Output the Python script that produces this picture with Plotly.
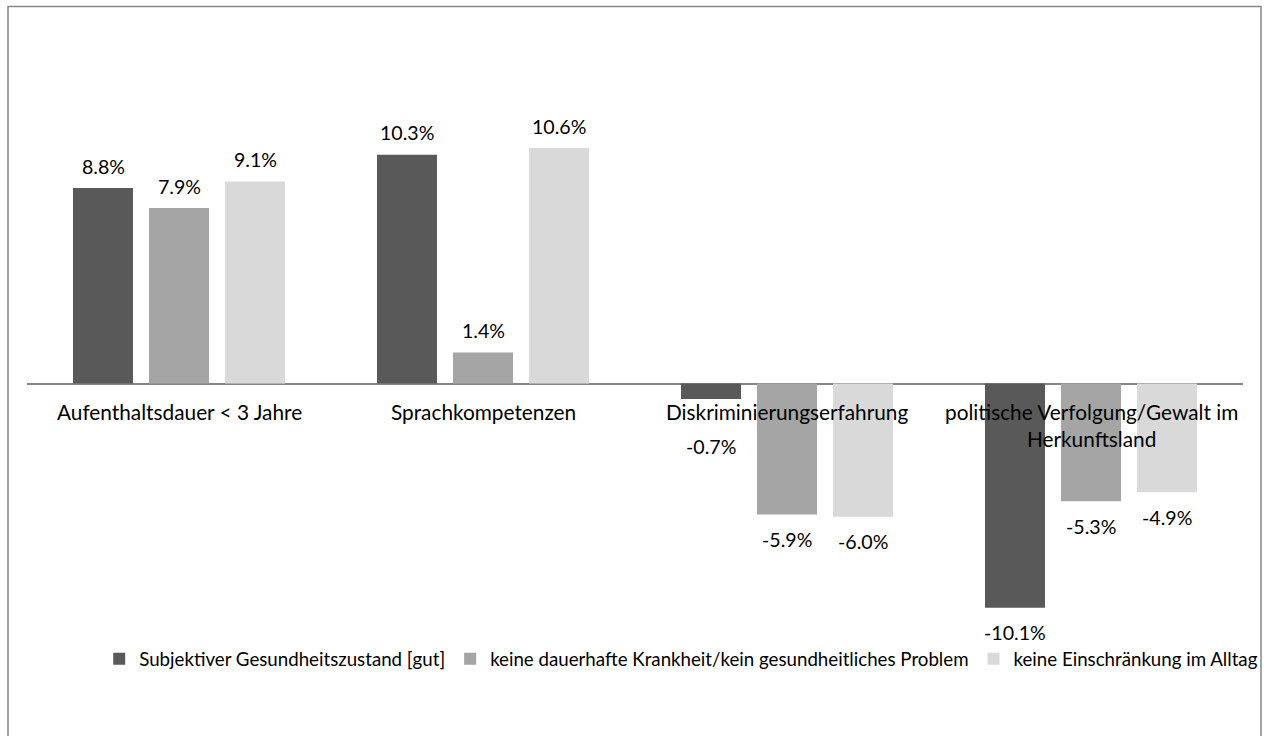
import plotly.graph_objects as go

categories = ["Aufenthaltsdauer < 3 Jahre", "Sprachkompetenzen",
              "Diskriminierungserfahrung", "politische Verfolgung/Gewalt im<br>Herkunftsland"]
series_names = ["Subjektiver Gesundheitszustand [gut]",
                "keine dauerhafte Krankheit/kein gesundheitliches Problem",
                "keine Einschränkung im Alltag"]
gesundheitszustand = [8.8, 10.3, -0.7, -10.1]
keine_krankheit = [7.9, 1.4, -5.9, -5.3]
keine_einschraenkung = [9.1, 10.6, -6.0, -4.9]
series_values = [gesundheitszustand, keine_krankheit, keine_einschraenkung]
colors = ["#595959", "#a5a5a5", "#d9d9d9"]

FONT = "Lato"
fig = go.Figure()
for name, vals, col in zip(series_names, series_values, colors):
    fig.add_trace(go.Bar(x=categories, y=vals, name=name,
                         marker=dict(color=col, line=dict(width=0)),
                         hoverinfo="skip"))

annotations = []
slot = 76  # px distance between bar centers within a group
for si, vals in enumerate(series_values):
    for ci, v in enumerate(vals):
        if v >= 0:
            ys = 22
        else:
            ys = -25
            if abs(v) < 1:
                ys = -47
        annotations.append(dict(x=categories[ci], y=v, xref="x", yref="y",
                                text=f"{v:.1f}%", showarrow=False,
                                xshift=(si - 1) * slot, yshift=ys,
                                yanchor="middle", xanchor="center",
                                font=dict(family=FONT, size=19.6, color="#000000")))
for c in categories:
    annotations.append(dict(x=c, y=0, xref="x", yref="y", text=c, showarrow=False,
                            yanchor="top", xanchor="center", yshift=-13,
                            align="center",
                            font=dict(family=FONT, size=20.8, color="#000000")))

fig.update_layout(
    width=1272, height=736,
    margin=dict(l=27, r=29, t=117, b=86, autoexpand=False),
    paper_bgcolor="white", plot_bgcolor="white",
    barmode="group", bargap=0.25, bargroupgap=0.21,
    xaxis=dict(showticklabels=False, showgrid=False, zeroline=False,
               showline=False, ticks="", fixedrange=True),
    yaxis=dict(range=[-12, 12], showticklabels=False, showgrid=False,
               zeroline=True, zerolinecolor="#868686", zerolinewidth=2,
               showline=False, ticks="", fixedrange=True),
    showlegend=True,
    legend=dict(orientation="h", x=0.538, xanchor="center", y=-0.017,
                yanchor="middle", font=dict(family=FONT, size=18.7, color="#000000"),
                itemwidth=30, tracegroupgap=0, bgcolor="rgba(0,0,0,0)"),
    annotations=annotations,
    shapes=[dict(type="rect", xref="paper", yref="paper",
                 x0=(8 - 27) / 1216, x1=(1261 - 27) / 1216,
                 y0=(650 - 740) / 533, y1=(650 - 6.5) / 533,
                 line=dict(color="#878787", width=1.5), fillcolor="rgba(0,0,0,0)",
                 layer="below")],
)

fig.write_html("out.html", config={"displayModeBar": False},
               post_script="document.body.style.margin='0';document.body.style.overflow='hidden';")
